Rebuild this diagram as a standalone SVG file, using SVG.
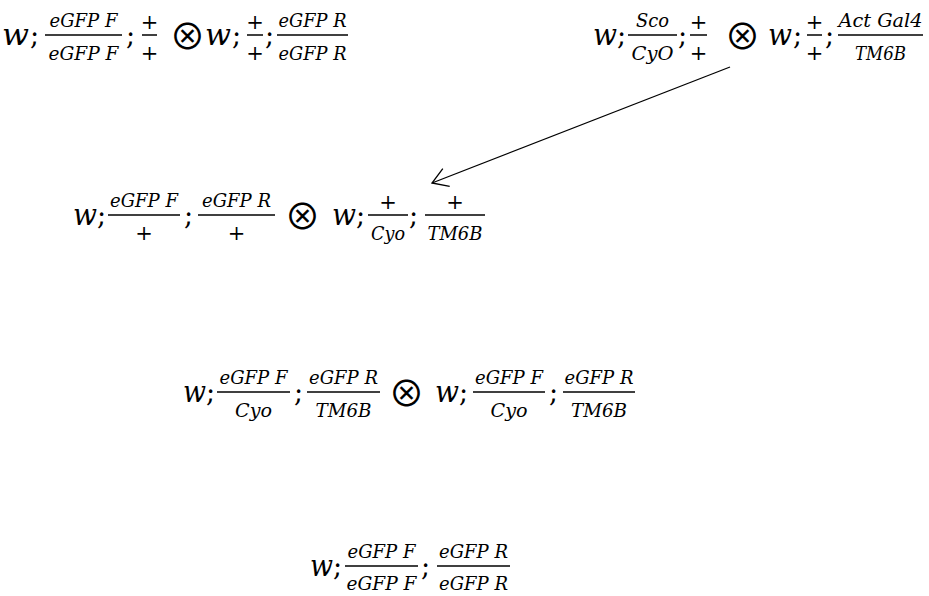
<svg xmlns="http://www.w3.org/2000/svg" width="929" height="596" viewBox="0 0 929 596">
<style>
.m{font-family:"DejaVu Serif",serif;font-style:italic;font-size:29px;fill:#000}
.p{font-family:"DejaVu Serif",serif;font-size:27px;fill:#000}
.f{font-family:"DejaVu Serif",serif;font-style:italic;font-size:19px;text-anchor:middle;fill:#000}
.pl{font-family:"DejaVu Serif",serif;font-size:21px;text-anchor:middle;fill:#000}
.o{font-family:"Noto Sans CJK JP","DejaVu Sans",sans-serif;font-size:36px;text-anchor:middle;fill:#000}
.bar{stroke:#000;stroke-width:1.5}
.con{stroke:#000;stroke-width:1.3;fill:none}
</style>
<defs>
<marker id="ah" markerUnits="userSpaceOnUse" markerWidth="24" markerHeight="24" viewBox="-20 -12 24 24" refX="0" refY="0" orient="auto">
<path d="M-15.3,-9.5 L0,0 L-15.3,9.5" fill="none" stroke="#000" stroke-width="1.3"/>
</marker>
</defs>

<g id="cross1">
<text class="m" x="2" y="45" textLength="27" lengthAdjust="spacingAndGlyphs">w</text>
<text class="p" x="30" y="45">;</text>
<line class="bar" x1="45" y1="35" x2="122" y2="35"/>
<text class="f" x="83.5" y="27" textLength="68" lengthAdjust="spacingAndGlyphs">eGFP F</text>
<text class="f" x="83.5" y="60" textLength="70" lengthAdjust="spacingAndGlyphs">eGFP F</text>
<text class="p" x="126" y="45">;</text>
<line class="bar" x1="142" y1="35" x2="157" y2="35"/>
<text class="pl" x="149.5" y="29">+</text>
<text class="pl" x="149.5" y="60">+</text>
<text class="o" x="187.5" y="49.6">⊗</text>
<text class="m" x="205" y="45" textLength="26" lengthAdjust="spacingAndGlyphs">w</text>
<text class="p" x="232" y="45">;</text>
<line class="bar" x1="247" y1="35" x2="263" y2="35"/>
<text class="pl" x="255" y="29">+</text>
<text class="pl" x="255" y="60">+</text>
<text class="p" x="265" y="45">;</text>
<line class="bar" x1="277" y1="35" x2="348" y2="35"/>
<text class="f" x="312.5" y="27" textLength="68" lengthAdjust="spacingAndGlyphs">eGFP R</text>
<text class="f" x="312.5" y="60" textLength="68" lengthAdjust="spacingAndGlyphs">eGFP R</text>
</g>

<g id="cross2">
<text class="m" x="593" y="45" textLength="24" lengthAdjust="spacingAndGlyphs">w</text>
<text class="p" x="617" y="45">;</text>
<line class="bar" x1="628" y1="35" x2="677" y2="35"/>
<text class="f" x="652.5" y="27" textLength="33" lengthAdjust="spacingAndGlyphs">Sco</text>
<text class="f" x="652.5" y="60" textLength="42" lengthAdjust="spacingAndGlyphs">CyO</text>
<text class="p" x="678" y="45">;</text>
<line class="bar" x1="690" y1="35" x2="707" y2="35"/>
<text class="pl" x="698.5" y="29">+</text>
<text class="pl" x="698.5" y="60">+</text>
<text class="o" x="742.5" y="49.6">⊗</text>
<text class="m" x="768" y="45" textLength="24" lengthAdjust="spacingAndGlyphs">w</text>
<text class="p" x="793" y="45">;</text>
<line class="bar" x1="807" y1="35" x2="822" y2="35"/>
<text class="pl" x="814.5" y="29">+</text>
<text class="pl" x="814.5" y="60">+</text>
<text class="p" x="825" y="45">;</text>
<line class="bar" x1="838" y1="35" x2="923" y2="35"/>
<text class="f" x="880.5" y="27" textLength="84" lengthAdjust="spacingAndGlyphs">Act Gal4</text>
<text class="f" x="880.5" y="60" textLength="51" lengthAdjust="spacingAndGlyphs">TM6B</text>
</g>

<g id="cross3">
<text class="m" x="73" y="225" textLength="24" lengthAdjust="spacingAndGlyphs">w</text>
<text class="p" x="97" y="225">;</text>
<line class="bar" x1="108" y1="215" x2="180" y2="215"/>
<text class="f" x="144" y="207" textLength="68" lengthAdjust="spacingAndGlyphs">eGFP F</text>
<text class="pl" x="144" y="240">+</text>
<text class="p" x="184" y="225">;</text>
<line class="bar" x1="198" y1="215" x2="275" y2="215"/>
<text class="f" x="236.5" y="207" textLength="69" lengthAdjust="spacingAndGlyphs">eGFP R</text>
<text class="pl" x="236.5" y="240">+</text>
<text class="o" x="302.5" y="229.6">⊗</text>
<text class="m" x="332" y="225" textLength="24" lengthAdjust="spacingAndGlyphs">w</text>
<text class="p" x="356" y="225">;</text>
<line class="bar" x1="368" y1="215" x2="408" y2="215"/>
<text class="pl" x="388" y="209">+</text>
<text class="f" x="388" y="240" textLength="34" lengthAdjust="spacingAndGlyphs">Cyo</text>
<text class="p" x="409" y="225">;</text>
<line class="bar" x1="425" y1="215" x2="485" y2="215"/>
<text class="pl" x="455" y="209">+</text>
<text class="f" x="455" y="240" textLength="55" lengthAdjust="spacingAndGlyphs">TM6B</text>
</g>

<g id="cross4">
<text class="m" x="183" y="402" textLength="23" lengthAdjust="spacingAndGlyphs">w</text>
<text class="p" x="206" y="402">;</text>
<line class="bar" x1="217" y1="392" x2="290" y2="392"/>
<text class="f" x="253.5" y="384" textLength="68" lengthAdjust="spacingAndGlyphs">eGFP F</text>
<text class="f" x="253.5" y="417" textLength="37" lengthAdjust="spacingAndGlyphs">Cyo</text>
<text class="p" x="294" y="402">;</text>
<line class="bar" x1="307" y1="392" x2="380" y2="392"/>
<text class="f" x="343.5" y="384" textLength="69" lengthAdjust="spacingAndGlyphs">eGFP R</text>
<text class="f" x="343.5" y="417" textLength="56" lengthAdjust="spacingAndGlyphs">TM6B</text>
<text class="o" x="406.5" y="406.6">⊗</text>
<text class="m" x="435" y="402" textLength="24" lengthAdjust="spacingAndGlyphs">w</text>
<text class="p" x="459" y="402">;</text>
<line class="bar" x1="473" y1="392" x2="545" y2="392"/>
<text class="f" x="509" y="384" textLength="68" lengthAdjust="spacingAndGlyphs">eGFP F</text>
<text class="f" x="509" y="417" textLength="37" lengthAdjust="spacingAndGlyphs">Cyo</text>
<text class="p" x="549" y="402">;</text>
<line class="bar" x1="563" y1="392" x2="635" y2="392"/>
<text class="f" x="599" y="384" textLength="69" lengthAdjust="spacingAndGlyphs">eGFP R</text>
<text class="f" x="599" y="417" textLength="56" lengthAdjust="spacingAndGlyphs">TM6B</text>
</g>

<g id="result">
<text class="m" x="310" y="576" textLength="23" lengthAdjust="spacingAndGlyphs">w</text>
<text class="p" x="333" y="576">;</text>
<line class="bar" x1="345" y1="566" x2="418" y2="566"/>
<text class="f" x="381.5" y="558" textLength="68" lengthAdjust="spacingAndGlyphs">eGFP F</text>
<text class="f" x="381.5" y="590" textLength="70" lengthAdjust="spacingAndGlyphs">eGFP F</text>
<text class="p" x="421" y="576">;</text>
<line class="bar" x1="437" y1="566" x2="510" y2="566"/>
<text class="f" x="473.5" y="558" textLength="69" lengthAdjust="spacingAndGlyphs">eGFP R</text>
<text class="f" x="473.5" y="590" textLength="69" lengthAdjust="spacingAndGlyphs">eGFP R</text>
</g>

<g id="connectors">
<line class="con" x1="730" y1="67" x2="432" y2="183" marker-end="url(#ah)"/>
</g>
</svg>
